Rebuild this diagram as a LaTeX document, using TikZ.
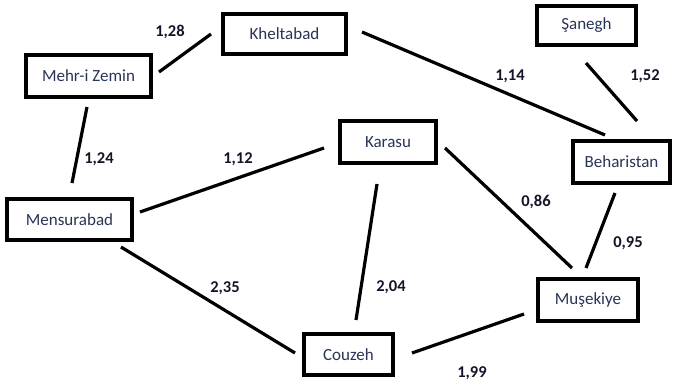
\documentclass[tikz,border=0pt]{standalone}
\usepackage{fontspec}
\setmainfont{Carlito}
\usetikzlibrary{calc}
\definecolor{textc}{RGB}{40,52,85}
\definecolor{labc}{RGB}{20,20,40}
\tikzset{
  place/.style={draw=black, line width=4.4pt, rectangle, inner sep=0pt,
    text=textc, font=\fontsize{17}{20}\selectfont},
  edge/.style={draw=black, line width=3.2pt},
  weight/.style={text=labc, font=\bfseries\fontsize{16.5}{20}\selectfont, inner sep=0pt}
}
\begin{document}
\begin{tikzpicture}[x=1pt,y=-1pt]
\useasboundingbox (0,0) rectangle (675,384);
% nodes (outer sizes minus border)
\node[place, minimum width=122.6pt, minimum height=39.6pt] (khel) at (284.5,34) {Kheltabad};
\node[place, minimum width=124.6pt, minimum height=41.6pt] (mehr) at (88.5,76) {Mehr-i Zemin};
\node[place, minimum width=124.6pt, minimum height=40.6pt] (mens) at (69.5,219.5) {Mensurabad};
\node[place, minimum width=95.6pt, minimum height=41.6pt] (kara) at (388,142) {Karasu};
\node[place, minimum width=98.6pt, minimum height=38.6pt] (sane) at (586.5,25.5) {Şanegh};
\node[place, minimum width=96.6pt, minimum height=41.6pt] (behar) at (621.5,162) {Beharistan};
\node[place, minimum width=99.6pt, minimum height=41.6pt] (muse) at (588,300) {Muşekiye};
\node[place, minimum width=88.6pt, minimum height=40.6pt] (couz) at (348.5,354.5) {Couzeh};
% connectors
\draw[edge] ($(mehr.east)+(6,-4)$) -- ($(khel.west)+(-10,0)$);
\draw[edge] ($(mehr.south)+(-1.5,8)$) -- ($(mens.north)+(2.5,-14)$);
\draw[edge] ($(mens.east)+(6,-7.5)$) -- ($(kara.west)+(-14,6)$);
\draw[edge] ($(khel.east)+(14,-2)$) -- ($(behar.north)+(-16.5,-4)$);
\draw[edge] ($(sane.south)+(-0.5,16)$) -- ($(behar.north)+(15.5,-18)$);
\draw[edge] ($(kara.east)+(7,6)$) -- ($(muse.north)+(-16,-9)$);
\draw[edge] ($(behar.south)+(-6.5,8)$) -- ($(muse.north)+(-2,-9)$);
\draw[edge] ($(kara.south)+(-11,19)$) -- ($(couz.north)+(7.5,-12)$);
\draw[edge] ($(mens.south east)+(-13,5)$) -- ($(couz.west)+(-7,-1.5)$);
\draw[edge] ($(couz.east)+(17,-1.5)$) -- ($(muse.west)+(-12,14)$);
% weights
\node[weight] (w128) at (170,32) {1,28};
\node[weight] (w124) at (99,159) {1,24};
\node[weight] (w112) at (238,159) {1,12};
\node[weight] (w114) at (510,76) {1,14};
\node[weight] (w152) at (645,76) {1,52};
\node[weight] (w235) at (225,288) {2,35};
\node[weight] (w086) at (536,202) {0,86};
\node[weight] (w095) at (628,243) {0,95};
\node[weight] (w204) at (391,287) {2,04};
\node[weight] (w199) at (472,373) {1,99};
\end{tikzpicture}
\end{document}
